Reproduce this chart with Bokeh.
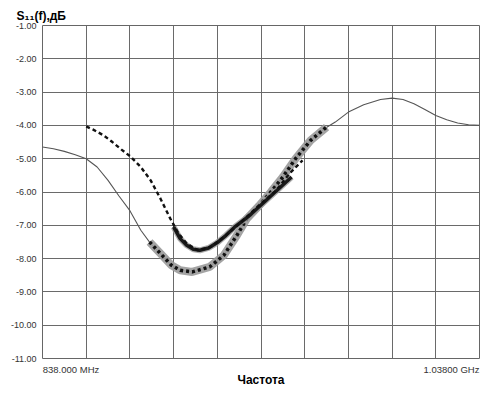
from bokeh.plotting import figure
from bokeh.models import FixedTicker, NumeralTickFormatter, Range1d
from bokeh.embed import file_html
from bokeh.resources import INLINE

# ---- data ----
x_start, x_end = 838.0, 1038.0          # MHz
y_bottom, y_top = -11.0, -1.0            # dB
x_grid = [838, 858, 878, 898, 918, 938, 958, 978, 998, 1018, 1038]
y_ticks = [-1, -2, -3, -4, -5, -6, -7, -8, -9, -10, -11]
x_left_label = "838.000 MHz"
x_right_label = "1.03800 GHz"
x_title = "Частота"
y_title = "S\u2081\u2081(f),дБ"

# thin simulated curve, full span
freq_sim = [838, 843, 848, 853, 858, 863, 868, 873, 878, 883, 887.5, 892, 897, 901,
            906.5, 914.5, 921, 927, 931.5, 937, 942.5, 948, 953.8, 960.7, 967, 972,
            978, 985, 992.7, 998, 1003, 1008, 1013, 1018, 1023, 1028, 1033, 1038]
s11_sim = [-4.65, -4.70, -4.78, -4.88, -5.00, -5.25, -5.65, -6.12, -6.56, -7.15, -7.55,
           -7.85, -8.20, -8.35, -8.40, -8.25, -7.90, -7.30, -6.80, -6.42, -6.00, -5.55,
           -5.00, -4.45, -4.10, -3.90, -3.60, -3.38, -3.22, -3.18, -3.22, -3.35, -3.52,
           -3.70, -3.83, -3.93, -3.98, -4.00]

# dashed curve
freq_dash = [858, 861, 866, 870, 874, 878, 883, 887.5, 892, 896.5, 900, 904, 909, 915,
             922, 929, 938, 945, 951, 957]
s11_dash = [-4.03, -4.12, -4.30, -4.50, -4.72, -4.92, -5.25, -5.65, -6.20, -6.80, -7.22,
            -7.55, -7.75, -7.65, -7.30, -6.90, -6.35, -5.95, -5.45, -5.05]

# measured band 1 (lower minimum)
freq_m1 = [887, 892, 897, 901, 906.5, 914.5, 921, 927, 931.5, 937, 942.5, 948, 953.8,
           960.7, 968]
s11_m1 = [-7.50, -7.85, -8.20, -8.35, -8.40, -8.25, -7.90, -7.30, -6.80, -6.42, -6.00,
          -5.55, -5.00, -4.45, -4.05]

# measured band 2 (upper minimum)
freq_m2 = [898, 901, 904, 907, 910, 914, 918, 922, 926, 929, 932, 937, 942, 947, 952]
s11_m2 = [-7.05, -7.40, -7.60, -7.72, -7.75, -7.68, -7.52, -7.30, -7.05, -6.90, -6.75,
          -6.45, -6.15, -5.85, -5.55]

FONT = "Liberation Sans"
FRAME_W = 437

# place the two end labels flush with the frame edges (centre = half label width in)
span = x_end - x_start
tick_left = x_start + (1 + 55 / 2) * span / FRAME_W
tick_right = x_end - (1 + 54 / 2) * span / FRAME_W

p = figure(width=500, height=390, output_backend="svg", toolbar_location=None,
           x_range=Range1d(x_start, x_end), y_range=Range1d(y_bottom, y_top),
           min_border_left=42, min_border_right=21, min_border_top=25,
           min_border_bottom=32)
p.background_fill_color = "white"
p.border_fill_color = "white"
p.outline_line_color = "#666666"
p.outline_line_width = 1

# title (y quantity)
p.title.text = y_title
p.title.align = "left"
p.title.offset = -26
p.title.standoff = 6
p.title.text_font = FONT
p.title.text_font_size = "12px"
p.title.text_font_style = "bold"
p.title.text_color = "black"

# grid
p.xgrid.ticker = FixedTicker(ticks=x_grid)
p.ygrid.ticker = FixedTicker(ticks=y_ticks)
for g in (p.xgrid, p.ygrid):
    g.grid_line_color = "#6a6a6a"
    g.grid_line_width = 1
    g.grid_line_alpha = 1.0

# y axis
ya = p.yaxis[0]
ya.ticker = FixedTicker(ticks=y_ticks)
ya.formatter = NumeralTickFormatter(format="0.00")
ya.axis_line_color = None
ya.major_tick_line_color = None
ya.minor_tick_line_color = None
ya.major_tick_out = 0
ya.major_tick_in = 0
ya.major_label_standoff = 6
ya.major_label_text_font = FONT
ya.major_label_text_font_size = "9px"
ya.major_label_text_color = "#333333"

# x axis: end labels + title
xa = p.xaxis[0]
xa.ticker = FixedTicker(ticks=[tick_left, tick_right])
xa.major_label_overrides = {tick_left: x_left_label, tick_right: x_right_label}
xa.axis_line_color = None
xa.major_tick_line_color = None
xa.minor_tick_line_color = None
xa.major_tick_out = 0
xa.major_tick_in = 0
xa.major_label_standoff = 5
xa.major_label_text_font = FONT
xa.major_label_text_font_size = "9.5px"
xa.major_label_text_color = "#333333"
xa.axis_label = x_title
xa.axis_label_standoff = -5
xa.axis_label_text_font = FONT
xa.axis_label_text_font_size = "12px"
xa.axis_label_text_font_style = "bold"
xa.axis_label_text_color = "black"

# curves
p.line(freq_sim, s11_sim, line_color="#555555", line_width=1.1)
p.line(freq_m1, s11_m1, line_color="#9a9a9a", line_width=8, line_alpha=0.9)
p.line(freq_m1, s11_m1, line_color="#111111", line_width=3.5, line_dash="3 3")
p.line(freq_m2, s11_m2, line_color="#9a9a9a", line_width=6, line_alpha=0.8)
p.line(freq_m2, s11_m2, line_color="#1a1a1a", line_width=3.5)
p.line(freq_dash, s11_dash, line_color="#111111", line_width=2.4, line_dash="4 3")

open("out.html", "w").write(file_html(p, INLINE))
